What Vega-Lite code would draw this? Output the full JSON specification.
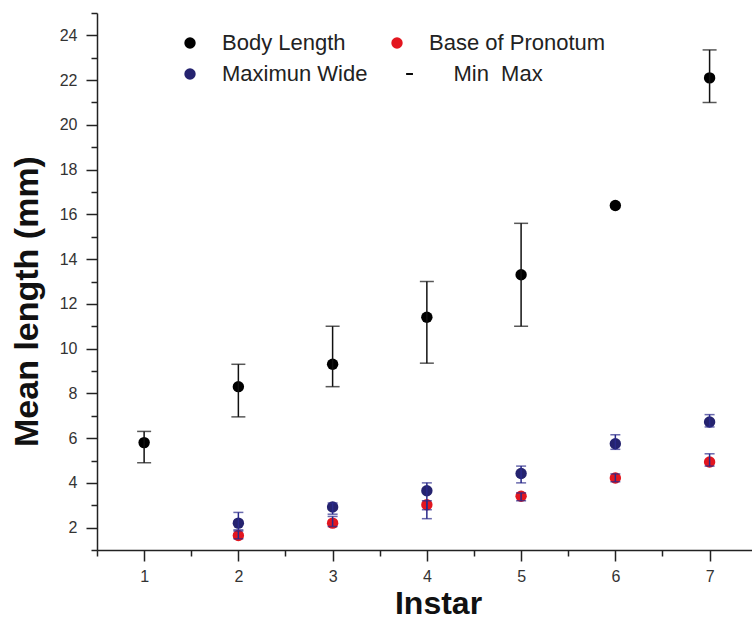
{
  "$schema": "https://vega.github.io/schema/vega-lite/v6.json",
  "width": 655,
  "height": 537,
  "autosize": "none",
  "padding": {"left": 97, "top": 13, "right": 0, "bottom": 69},
  "background": "white",
  "config": {
    "view": {"stroke": null},
    "font": "Liberation Sans",
    "axis": {
      "grid": false,
      "domainColor": "#222222",
      "domainWidth": 1.5,
      "tickColor": "#222222",
      "tickWidth": 1.5,
      "labelColor": "#333333",
      "labelFont": "Liberation Sans",
      "labelFontSize": 16,
      "titleFont": "Liberation Sans",
      "titleFontWeight": "bold",
      "titleColor": "#111111"
    }
  },
  "data": {
    "values": [
      {"instar": 1, "series": "Body Length", "mean": 5.8, "min": 4.9, "max": 6.3},
      {"instar": 2, "series": "Body Length", "mean": 8.3, "min": 6.95, "max": 9.3},
      {"instar": 3, "series": "Body Length", "mean": 9.3, "min": 8.3, "max": 11.0},
      {"instar": 4, "series": "Body Length", "mean": 11.4, "min": 9.35, "max": 13.0},
      {"instar": 5, "series": "Body Length", "mean": 13.3, "min": 11.0, "max": 15.6},
      {"instar": 6, "series": "Body Length", "mean": 16.4, "min": null, "max": null},
      {"instar": 7, "series": "Body Length", "mean": 22.1, "min": 21.0, "max": 23.35},
      {"instar": 2, "series": "Maximun Wide", "mean": 2.2, "min": 1.9, "max": 2.68},
      {"instar": 3, "series": "Maximun Wide", "mean": 2.92, "min": 2.6, "max": 3.1},
      {"instar": 4, "series": "Maximun Wide", "mean": 3.65, "min": 2.4, "max": 4.0},
      {"instar": 5, "series": "Maximun Wide", "mean": 4.42, "min": 4.0, "max": 4.75},
      {"instar": 6, "series": "Maximun Wide", "mean": 5.75, "min": 5.5, "max": 6.15},
      {"instar": 7, "series": "Maximun Wide", "mean": 6.72, "min": 6.5, "max": 7.05},
      {"instar": 2, "series": "Base of Pronotum", "mean": 1.65, "min": 1.5, "max": 1.85},
      {"instar": 3, "series": "Base of Pronotum", "mean": 2.2, "min": 2.05, "max": 2.5},
      {"instar": 4, "series": "Base of Pronotum", "mean": 3.02, "min": 2.8, "max": 3.2},
      {"instar": 5, "series": "Base of Pronotum", "mean": 3.4, "min": 3.2, "max": 3.55},
      {"instar": 6, "series": "Base of Pronotum", "mean": 4.22, "min": 4.05, "max": 4.4},
      {"instar": 7, "series": "Base of Pronotum", "mean": 4.93, "min": 4.75, "max": 5.3}
    ]
  },
  "layer": [
    {
      "mark": {"type": "point", "filled": true, "opacity": 1, "size": 130},
      "encoding": {
        "x": {
          "field": "instar",
          "type": "quantitative",
          "scale": {"domain": [0.5, 7.45], "nice": false, "zero": false},
          "axis": {
            "orient": "bottom",
            "values": [1, 2, 3, 4, 5, 6, 7],
            "format": "d",
            "tickSize": 11,
            "labelPadding": 7,
            "title": "Instar",
            "titleFontSize": 32,
            "titleX": 341,
            "titleY": 63,
            "titleBaseline": "alphabetic"
          }
        },
        "y": {
          "field": "mean",
          "type": "quantitative",
          "scale": {"domain": [1, 25], "nice": false, "zero": false},
          "axis": {
            "orient": "left",
            "values": [2, 4, 6, 8, 10, 12, 14, 16, 18, 20, 22, 24],
            "format": "d",
            "tickSize": 11,
            "labelPadding": 9,
            "title": "Mean length (mm)",
            "titleFontSize": 34,
            "titleAngle": 270,
            "titleX": -53,
            "titleY": 288,
            "titleBaseline": "bottom"
          }
        },
        "color": {
          "field": "series",
          "type": "nominal",
          "scale": {
            "domain": ["Body Length", "Maximun Wide", "Base of Pronotum", "Min Max"],
            "range": ["#000000", "#25236f", "#e3161f", "#000000"]
          },
          "legend": {
            "orient": "none",
            "legendX": 82,
            "legendY": 19,
            "columns": 2,
            "title": null,
            "labelFont": "Liberation Sans",
            "labelFontSize": 22,
            "labelColor": "#222222",
            "labelOffset": 21,
            "labelLimit": 400,
            "symbolSize": 130,
            "rowPadding": 9,
            "columnPadding": 18,
            "labelExpr": "datum.label == 'Min Max' ? '\u200b\u00a0\u00a0\u00a0\u00a0Min\u00a0\u00a0Max' : datum.label"
          }
        },
        "shape": {
          "field": "series",
          "type": "nominal",
          "scale": {
            "domain": ["Body Length", "Maximun Wide", "Base of Pronotum", "Min Max"],
            "range": ["circle", "circle", "circle", "M1.6,-0.17H2.8V0.17H1.6Z"]
          }
        }
      }
    },
    {
      "mark": {"type": "rule", "strokeWidth": 1.5},
      "encoding": {
        "x": {
          "field": "instar",
          "type": "quantitative",
          "axis": {
            "orient": "bottom",
            "values": [0.5, 1.5, 2.5, 3.5, 4.5, 5.5, 6.5],
            "tickSize": 6,
            "labels": false,
            "domain": false,
            "title": null
          }
        },
        "y": {
          "field": "min",
          "type": "quantitative",
          "axis": {
            "orient": "left",
            "values": [1, 3, 5, 7, 9, 11, 13, 15, 17, 19, 21, 23, 25],
            "tickSize": 6,
            "labels": false,
            "domain": false,
            "title": null
          }
        },
        "y2": {"field": "max"},
        "color": {"condition": {"test": "datum.series == 'Body Length'", "value": "#111111"}, "value": "#2a2a8a"}
      }
    },
    {
      "mark": {"type": "tick", "orient": "horizontal", "thickness": 1.5},
      "encoding": {
        "x": {"field": "instar", "type": "quantitative", "axis": null},
        "y": {"field": "min", "type": "quantitative", "axis": null},
        "size": {"condition": {"test": "datum.series == 'Body Length'", "value": 14}, "value": 10},
        "color": {"condition": {"test": "datum.series == 'Body Length'", "value": "#111111"}, "value": "#2a2a8a"}
      }
    },
    {
      "mark": {"type": "tick", "orient": "horizontal", "thickness": 1.5},
      "encoding": {
        "x": {"field": "instar", "type": "quantitative", "axis": null},
        "y": {"field": "max", "type": "quantitative", "axis": null},
        "size": {"condition": {"test": "datum.series == 'Body Length'", "value": 14}, "value": 10},
        "color": {"condition": {"test": "datum.series == 'Body Length'", "value": "#111111"}, "value": "#2a2a8a"}
      }
    }
  ],
  "resolve": {"axis": {"x": "independent", "y": "independent"}}
}
